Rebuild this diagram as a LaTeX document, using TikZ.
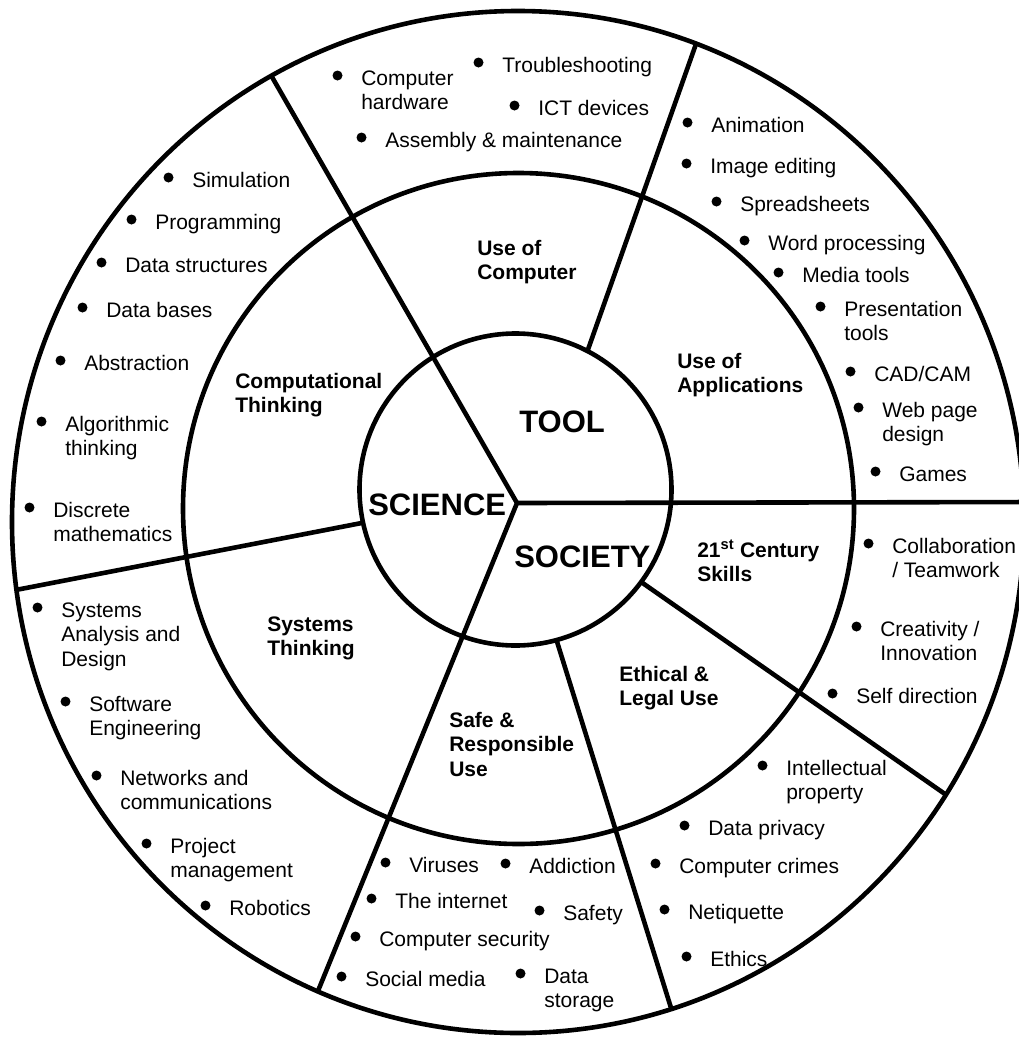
\documentclass[tikz,border=0pt]{standalone}
\usepackage{fontspec}
\setmainfont{Liberation Sans}
\newcommand{\twolines}[1]{\begin{tabular}[t]{@{}l@{}}#1\end{tabular}}

\begin{document}
\begin{tikzpicture}[x=1pt, y=-1pt, line width=4.6pt,
    itemtext/.style={anchor=base west, inner sep=0pt, font=\fontsize{21}{24.5}\selectfont},
    ringtext/.style={itemtext, font=\fontsize{21}{24.5}\selectfont\bfseries},
    coretext/.style={anchor=base west, inner sep=0pt, font=\fontsize{31}{36}\selectfont\bfseries}]
        \useasboundingbox (0,0) rectangle (1018,1039);

        \begin{scope}
          \clip (518,522) ellipse [x radius=506, y radius=511];
          \draw (372,521) -- (-5,594);
          \draw (585,358) -- (702,27);
          \draw (634,577) -- (965,808);
          \draw (554,632) -- (681,1040);
          \fill[white] (515.5,489.5) circle (156);
          \draw (249,37) -- (517,503) -- (298,1040);
          \draw (517,503) -- (1040,502);
        \end{scope}
        \draw (515.5,489.5) circle (156);
        \draw (518.5,508.5) circle (335.5);
        \draw (518,522) ellipse [x radius=506, y radius=511];

        \node[coretext] (tool) at (517,432) {TOOL};
        \node[coretext] (science) at (366,515) {SCIENCE};
        \node[coretext] (society) at (512,567) {SOCIETY};

        \node[ringtext] (usecomp) at (475,255) {\twolines{Use of\\Computer}};
        \node[ringtext] (useapp) at (675,368) {\twolines{Use of\\Applications}};
        \node[ringtext] (skills) at (695,557) {\twolines{21\textsuperscript{st} Century\\Skills}};
        \node[ringtext] (ethical) at (617,681) {\twolines{Ethical \&\\Legal Use}};
        \node[ringtext] (safe) at (447,727) {\twolines{Safe \&\\Responsible\\Use}};
        \node[ringtext] (systhink) at (265,631) {\twolines{Systems\\Thinking}};
        \node[ringtext] (compthink) at (233,388) {\twolines{Computational\\Thinking}};

        \node[itemtext] (hardware) at (359,85) {\twolines{Computer\\hardware}};
        \node[itemtext] (trouble) at (500,72) {Troubleshooting};
        \node[itemtext] (ict) at (536,115) {ICT devices};
        \node[itemtext] (assembly) at (383,147) {Assembly \& maintenance};

        \node[itemtext] (anim) at (709,132) {Animation};
        \node[itemtext] (image) at (708,173) {Image editing};
        \node[itemtext] (spread) at (738,211) {Spreadsheets};
        \node[itemtext] (word) at (766,250) {Word processing};
        \node[itemtext] (media) at (800,282) {Media tools};
        \node[itemtext] (present) at (842,316) {\twolines{Presentation\\tools}};
        \node[itemtext] (cad) at (872,381) {CAD/CAM};
        \node[itemtext] (web) at (880,417) {\twolines{Web page\\design}};
        \node[itemtext] (games) at (897,481) {Games};

        \node[itemtext] (collab) at (890,553) {\twolines{Collaboration\\/ Teamwork}};
        \node[itemtext] (creat) at (878,636) {\twolines{Creativity /\\Innovation}};
        \node[itemtext] (selfdir) at (854,703) {Self direction};

        \node[itemtext] (intell) at (784,775) {\twolines{Intellectual\\property}};
        \node[itemtext] (privacy) at (706,835) {Data privacy};
        \node[itemtext] (crimes) at (677,873) {Computer crimes};
        \node[itemtext] (netiq) at (686,919) {Netiquette};
        \node[itemtext] (ethics) at (708,966) {Ethics};

        \node[itemtext] (viruses) at (407,872) {Viruses};
        \node[itemtext] (addict) at (527,873) {Addiction};
        \node[itemtext] (internet) at (393,908) {The internet};
        \node[itemtext] (safety) at (561,920) {Safety};
        \node[itemtext] (security) at (377,946) {Computer security};
        \node[itemtext] (social) at (363,986) {Social media};
        \node[itemtext] (storage) at (542,983) {\twolines{Data\\storage}};

        \node[itemtext] (sad) at (59,617) {\twolines{Systems\\Analysis and\\Design}};
        \node[itemtext] (softeng) at (87,711) {\twolines{Software\\Engineering}};
        \node[itemtext] (networks) at (118,785) {\twolines{Networks and\\communications}};
        \node[itemtext] (project) at (168,853) {\twolines{Project\\management}};
        \node[itemtext] (robotics) at (227,915) {Robotics};

        \node[itemtext] (simul) at (190,187) {Simulation};
        \node[itemtext] (program) at (153,229) {Programming};
        \node[itemtext] (datastr) at (123,272) {Data structures};
        \node[itemtext] (databases) at (104,317) {Data bases};
        \node[itemtext] (abstr) at (82,370) {Abstraction};
        \node[itemtext] (algo) at (63,431) {\twolines{Algorithmic\\thinking}};
        \node[itemtext] (discrete) at (51,517) {\twolines{Discrete\\mathematics}};

        \foreach \n in {hardware,trouble,ict,assembly,anim,image,spread,word,media,present,cad,web,games,
            collab,creat,selfdir,intell,privacy,crimes,netiq,ethics,viruses,addict,internet,safety,security,
            social,storage,sad,softeng,networks,project,robotics,simul,program,datastr,databases,abstr,algo,discrete}
          \fill ([shift={(-21.5,-9.5)}]\n.base west) circle (5);
      \end{tikzpicture}
\end{document}
